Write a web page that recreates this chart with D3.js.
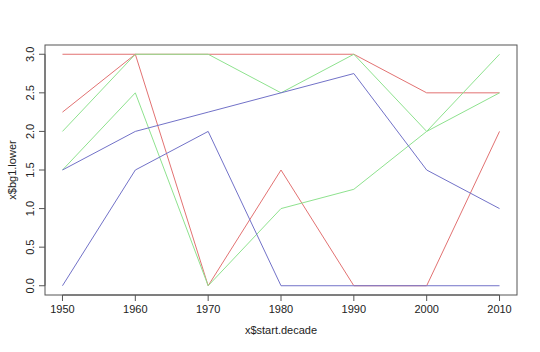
<!DOCTYPE html>
<html>
<head>
<meta charset="utf-8">
<script src="https://cdn.jsdelivr.net/npm/d3@7"></script>
<style>
  body { margin: 0; background: #fff; }
  text { font-family: "Liberation Sans", Arial, sans-serif; fill: #222; }
</style>
</head>
<body>
<div id="chart"></div>
<script>
// données
const decades = [1950, 1960, 1970, 1980, 1990, 2000, 2010];
const redA = [3, 3, 3, 3, 3, 2.5, 2.5];
const redB = [2.25, 3, 0, 1.5, 0, 0, 2];
const greenA = [2, 3, 3, 2.5, 3, 2, 3];
const greenB = [1.5, 2.5, 0, 1, 1.25, 2, 2.5];
const blueA = [1.5, 2, 2.25, 2.5, 2.75, 1.5, 1];
const blueB = [0, 1.5, 2, 0, 0, 0, 0];
const yTicks = [0, 0.5, 1, 1.5, 2, 2.5, 3];

const series = [
  { values: redA, color: "#e27272" },
  { values: redB, color: "#e27272" },
  { values: greenA, color: "#8ee28e" },
  { values: greenB, color: "#8ee28e" },
  { values: blueA, color: "#7272c8" },
  { values: blueB, color: "#7272c8" },
];

const width = 540, height = 352;
const box = { left: 45, right: 517, top: 45, bottom: 295 };

const svg = d3.select("#chart").append("svg")
  .attr("width", width).attr("height", height);

// échelles (extension de 4% comme R)
const x = d3.scaleLinear().domain([1950 - 2.4, 2010 + 2.4]).range([box.left, box.right]);
const y = d3.scaleLinear().domain([-0.12, 3.12]).range([box.bottom, box.top]);

// lignes
const line = d3.line().x((d, i) => x(decades[i])).y(d => y(d));

svg.selectAll("path.serie")
  .data(series)
  .join("path")
  .attr("class", "serie")
  .attr("d", d => line(d.values))
  .attr("fill", "none")
  .attr("stroke", d => d.color)
  .attr("stroke-width", 1);

// cadre
svg.append("rect")
  .attr("x", box.left).attr("y", box.top)
  .attr("width", box.right - box.left).attr("height", box.bottom - box.top)
  .attr("fill", "none").attr("stroke", "#555").attr("stroke-width", 1);

// axe x
const gx = svg.append("g");
gx.append("line")
  .attr("x1", x(1950)).attr("x2", x(2010))
  .attr("y1", box.bottom).attr("y2", box.bottom)
  .attr("stroke", "#555");
gx.selectAll("line.tick")
  .data(decades)
  .join("line")
  .attr("class", "tick")
  .attr("x1", d => x(d)).attr("x2", d => x(d))
  .attr("y1", box.bottom).attr("y2", box.bottom + 6)
  .attr("stroke", "#555");
gx.selectAll("text")
  .data(decades)
  .join("text")
  .attr("x", d => x(d)).attr("y", box.bottom + 18)
  .attr("text-anchor", "middle")
  .attr("font-size", 11)
  .text(d => d);

// axe y
const gy = svg.append("g");
gy.append("line")
  .attr("x1", box.left).attr("x2", box.left)
  .attr("y1", y(0)).attr("y2", y(3))
  .attr("stroke", "#555");
gy.selectAll("line.tick")
  .data(yTicks)
  .join("line")
  .attr("class", "tick")
  .attr("x1", box.left - 6).attr("x2", box.left)
  .attr("y1", d => y(d)).attr("y2", d => y(d))
  .attr("stroke", "#555");
gy.selectAll("text")
  .data(yTicks)
  .join("text")
  .attr("transform", d => `translate(${box.left - 11}, ${y(d)}) rotate(-90)`)
  .attr("text-anchor", "middle")
  .attr("font-size", 11)
  .text(d => d3.format(".1f")(d));

// titres des axes
svg.append("text")
  .attr("x", (box.left + box.right) / 2).attr("y", 334)
  .attr("text-anchor", "middle")
  .attr("font-size", 11)
  .text("x$start.decade");

svg.append("text")
  .attr("transform", `translate(16, ${(box.top + box.bottom) / 2}) rotate(-90)`)
  .attr("text-anchor", "middle")
  .attr("font-size", 11)
  .text("x$bg1.lower");
</script>
</body>
</html>
